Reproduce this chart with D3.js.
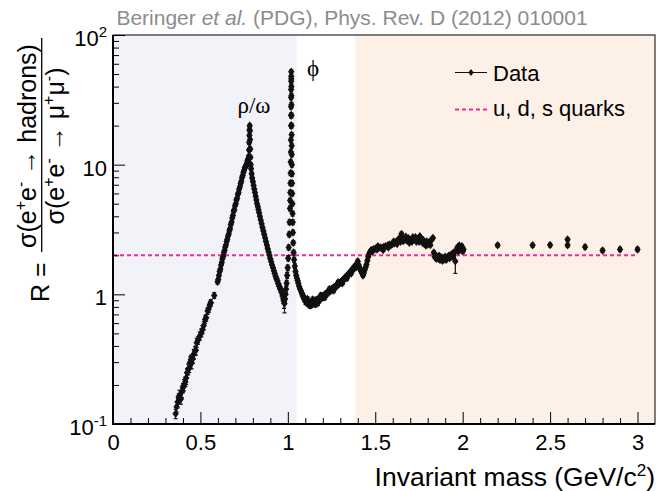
<!DOCTYPE html>
<html><head><meta charset="utf-8">
<script src="https://cdn.jsdelivr.net/npm/d3@7"></script>
<style>
html,body{margin:0;padding:0;background:#fff;}
svg{display:block;font-family:"Liberation Sans",Arial,Helvetica,sans-serif;}
</style></head><body>
<svg id="chart" width="658" height="491"></svg>
<script>
// ---------------- DATA ----------------
const xDomain = [0, 3.1];
const yDomain = [0.1, 100];
const xMajorTicks = [0, 0.5, 1, 1.5, 2, 2.5, 3];
const xTickLabels = ["0", "0.5", "1", "1.5", "2", "2.5", "3"];
const yMajorTicks = [0.1, 1, 10, 100];
const yTickBase = ["10", "1", "10", "10"];
const yTickExp = ["-1", "", "", "2"];
const bandFrom = [0, 1.385];
const bandTo = [1.05, 3.1];
const quarkR = 2;            // u, d, s quark expectation
const quarkRange = [0, 3.0];

// [mass GeV, R, error]
const rhoRegion = [
 [0.358,0.120,0.010],[0.364,0.136,0.012],[0.370,0.148,0.015],[0.376,0.158,0.013],[0.380,0.166,0.016],
 [0.388,0.156,0.014],[0.394,0.178,0.018],[0.400,0.190,0.016],[0.406,0.200,0.020],[0.414,0.212,0.018],
 [0.418,0.226,0.024],[0.424,0.248,0.020],[0.430,0.264,0.025],[0.436,0.272,0.022],[0.441,0.300,0.030],
 [0.446,0.314,0.026],[0.450,0.296,0.030],[0.456,0.318,0.024],[0.462,0.346,0.030],[0.469,0.366,0.028],
 [0.474,0.370,0.030],[0.479,0.424,0.034],[0.486,0.442,0.030],[0.497,0.478,0.034],[0.505,0.505,0.036],
 [0.512,0.534,0.038],[0.519,0.575,0.040],[0.527,0.640,0.042],[0.533,0.660,0.040],[0.541,0.744,0.044],
 [0.547,0.770,0.046],[0.554,0.836,0.048],[0.560,0.860,0.050],[0.579,0.98,0.05],
 [0.598,1.25,0.05],[0.602,1.30,0.05],[0.606,1.40,0.05],[0.610,1.50,0.06],[0.614,1.56,0.06],
 [0.618,1.68,0.06],[0.622,1.76,0.06],[0.626,1.88,0.07],[0.630,1.96,0.07],[0.634,2.10,0.07],
 [0.638,2.18,0.08],[0.642,2.32,0.08],[0.646,2.40,0.08],[0.650,2.56,0.09],[0.654,2.66,0.09],
 [0.658,2.82,0.10],[0.662,2.92,0.10],[0.666,3.10,0.11],[0.670,3.22,0.11],[0.674,3.46,0.12],
 [0.678,3.60,0.12],[0.682,3.88,0.13],[0.686,4.05,0.14],[0.690,4.38,0.15],[0.694,4.50,0.15],
 [0.698,4.82,0.16],[0.702,5.00,0.17],[0.706,5.35,0.18],[0.710,5.50,0.18],[0.714,5.90,0.20],
 [0.718,6.10,0.20],[0.722,6.50,0.22],[0.726,6.75,0.22],[0.730,7.15,0.24],[0.734,7.45,0.25],
 [0.738,7.95,0.26],[0.742,8.25,0.27],[0.746,8.75,0.28],[0.750,9.05,0.30],[0.754,9.45,0.30],
 [0.758,9.65,0.32],[0.762,10.0,0.32],[0.766,10.3,0.34],[0.769,10.7,0.35],[0.772,11.0,0.35],
 [0.775,10.2,0.35],[0.777,11.6,0.4],[0.778,13.0,0.4],[0.779,14.8,0.5],[0.780,16.8,0.5],
 [0.781,18.6,0.6],[0.782,20.0,0.6],[0.783,18.2,0.6],[0.784,15.6,0.5],[0.785,13.2,0.5],
 [0.786,11.4,0.4],[0.788,10.0,0.35],[0.790,9.3,0.3],[0.793,8.5,0.3]
];

const phiRegion = [
 [0.796,7.9,0.3],[0.800,7.4,0.3],[0.804,6.9,0.3],[0.808,6.5,0.25],[0.812,6.1,0.25],[0.816,5.7,0.22],
 [0.820,5.35,0.2],[0.824,5.0,0.2],[0.828,4.75,0.18],[0.832,4.5,0.18],[0.836,4.25,0.16],[0.840,4.0,0.16],
 [0.845,3.75,0.15],[0.850,3.5,0.14],[0.855,3.28,0.13],[0.860,3.08,0.12],[0.865,2.9,0.12],[0.870,2.72,0.11],
 [0.875,2.55,0.1],[0.880,2.4,0.1],[0.885,2.25,0.09],[0.890,2.12,0.09],[0.895,2.0,0.08],[0.900,1.88,0.08],
 [0.905,1.78,0.08],[0.910,1.68,0.07],[0.915,1.6,0.07],[0.920,1.52,0.07],[0.925,1.45,0.07],[0.930,1.38,0.06],
 [0.935,1.32,0.06],[0.940,1.27,0.06],[0.945,1.21,0.06],[0.950,1.16,0.06],[0.955,1.12,0.06],[0.960,1.08,0.06],
 [0.965,1.03,0.07],[0.970,0.98,0.08],[0.974,0.93,0.08],[0.978,0.88,0.10],[0.981,0.85,0.13],[0.984,0.92,0.08],
 [0.987,1.00,0.07],[0.990,1.10,0.06],[0.993,1.22,0.06],[0.996,1.40,0.07],[0.999,1.60,0.08],[1.002,1.90,0.09],
 [1.005,2.3,0.1],[1.008,2.9,0.12],[1.010,3.6,0.15],[1.012,4.6,0.2],[1.013,5.3,0.2],[1.014,6.1,0.25],
 [1.015,7.2,0.3],[1.016,8.6,0.35],[1.0165,10.5,0.4],[1.017,12.5,0.5],[1.0175,15.5,0.6],[1.018,20,0.8],
 [1.018,24,1.0],[1.0183,28,1.1],[1.0185,33,1.3],[1.0187,38,1.5],[1.019,44,1.7],[1.0193,48,1.9],
 [1.0195,52,2.0],[1.0197,46,1.8],[1.020,40,1.6],[1.0203,34,1.4],[1.0206,29,1.2],[1.021,24,1.0],
 [1.0213,20,0.8],[1.0216,17,0.7],[1.022,14,0.6],[1.0225,12,0.5],[1.023,10,0.4],[1.0235,8.5,0.35],
 [1.024,7.2,0.3],[1.025,6.0,0.25],[1.026,5.0,0.2],[1.027,4.2,0.18],[1.028,3.6,0.15],[1.029,3.0,0.12],
 [1.031,2.5,0.1],[1.033,2.1,0.09],[1.036,1.85,0.08],[1.040,1.65,0.07],[1.044,1.50,0.06],[1.048,1.40,0.06],
 [1.052,1.33,0.06],[1.056,1.28,0.05],[1.060,1.22,0.05],[1.065,1.15,0.05],[1.070,1.10,0.05],[1.075,1.06,0.05],
 [1.080,1.02,0.05],[1.085,0.98,0.05],[1.090,0.95,0.05],[1.095,0.92,0.05],[1.100,0.89,0.05]
];

const continuumRegion = [
 [1.105,0.87,0.04],[1.110,0.86,0.04],[1.112,0.92,0.04],[1.115,0.85,0.04],[1.120,0.84,0.04],[1.125,0.86,0.04],
 [1.128,0.82,0.04],[1.130,0.85,0.04],[1.135,0.87,0.04],[1.140,0.84,0.04],[1.142,0.91,0.04],[1.145,0.88,0.04],
 [1.150,0.86,0.04],[1.155,0.89,0.04],[1.158,0.84,0.04],[1.160,0.90,0.04],[1.165,0.87,0.04],[1.170,0.91,0.04],
 [1.172,0.86,0.04],[1.175,0.92,0.04],[1.180,0.90,0.04],[1.185,0.94,0.04],[1.188,0.98,0.04],[1.190,0.93,0.04],
 [1.195,0.96,0.04],[1.200,0.97,0.04],[1.205,0.95,0.04],[1.210,0.99,0.04],[1.212,0.95,0.04],[1.215,1.00,0.04],
 [1.220,1.02,0.04],[1.225,1.01,0.04],[1.230,1.04,0.04],[1.235,1.06,0.04],[1.238,1.10,0.04],[1.240,1.05,0.04],
 [1.245,1.08,0.04],[1.250,1.10,0.04],[1.255,1.09,0.04],[1.260,1.12,0.04],[1.262,1.07,0.04],[1.265,1.14,0.04],
 [1.270,1.13,0.04],[1.275,1.16,0.04],[1.280,1.18,0.04],[1.285,1.17,0.04],[1.288,1.24,0.04],[1.290,1.20,0.04],
 [1.295,1.22,0.04],[1.300,1.24,0.04],[1.305,1.23,0.04],[1.310,1.27,0.04],[1.312,1.22,0.04],[1.315,1.29,0.04],
 [1.320,1.30,0.04],[1.325,1.33,0.05],[1.330,1.35,0.05],[1.335,1.38,0.05],[1.338,1.33,0.05],[1.340,1.40,0.05],
 [1.345,1.42,0.05],[1.350,1.45,0.05],[1.355,1.47,0.05],[1.360,1.50,0.05],[1.362,1.45,0.05],[1.365,1.53,0.05],
 [1.370,1.55,0.05],[1.375,1.60,0.05],[1.380,1.58,0.05],[1.385,1.66,0.05],[1.390,1.62,0.05],[1.395,1.70,0.05],
 [1.400,1.80,0.06],[1.405,1.68,0.05],[1.410,1.60,0.05],[1.415,1.55,0.05],[1.420,1.50,0.05],[1.425,1.45,0.05],
 [1.430,1.40,0.05],[1.435,1.46,0.05],[1.440,1.55,0.05],[1.445,1.62,0.05],[1.450,1.70,0.06],[1.455,1.82,0.06],
 [1.460,1.95,0.06],[1.465,2.05,0.06],[1.470,2.12,0.06],[1.475,2.18,0.06],[1.480,2.20,0.06],[1.485,2.16,0.06],
 [1.490,2.22,0.06],[1.500,2.25,0.06],[1.510,2.22,0.06],[1.515,2.35,0.06],[1.520,2.28,0.06],[1.530,2.30,0.06],
 [1.540,2.28,0.06],[1.545,2.20,0.06],[1.550,2.33,0.06],[1.560,2.35,0.06],[1.570,2.38,0.06],[1.575,2.30,0.06],
 [1.580,2.42,0.06],[1.590,2.40,0.06],[1.600,2.45,0.06],[1.605,2.55,0.07],[1.610,2.48,0.07],[1.620,2.55,0.07],
 [1.625,2.45,0.07],[1.630,2.62,0.07],[1.640,2.72,0.07],[1.645,2.55,0.07],[1.650,2.92,0.10],[1.655,2.70,0.07],
 [1.660,2.58,0.07],[1.670,2.65,0.07],[1.675,2.78,0.07],[1.680,2.60,0.07],[1.690,2.70,0.07],[1.695,2.50,0.07],
 [1.700,2.62,0.07],[1.710,2.55,0.07],[1.715,2.75,0.07],[1.720,2.68,0.07],[1.730,2.75,0.08],[1.735,2.55,0.07],
 [1.740,2.60,0.07],[1.750,2.55,0.07],[1.755,2.80,0.08],[1.760,2.72,0.07],[1.770,2.50,0.07],[1.775,2.62,0.07],
 [1.780,2.45,0.07],[1.790,2.38,0.07],[1.795,2.55,0.07],[1.800,2.42,0.07],[1.810,2.52,0.07],[1.815,2.40,0.07],
 [1.820,2.62,0.07],[1.830,2.72,0.08],[1.835,2.10,0.07],[1.840,1.95,0.07],[1.845,2.00,0.07],[1.850,1.88,0.07],
 [1.860,1.90,0.07],[1.865,1.98,0.07],[1.870,1.85,0.07],[1.880,1.92,0.07],[1.885,1.82,0.07],[1.890,1.88,0.07],
 [1.900,1.95,0.07],[1.905,1.85,0.07],[1.910,1.90,0.07],[1.920,1.98,0.07],[1.925,1.90,0.07],[1.930,2.00,0.07],
 [1.940,2.05,0.07],[1.945,1.95,0.07],[1.950,2.10,0.08],[1.958,1.80,0.35],[1.965,2.20,0.08],[1.970,2.30,0.08],
 [1.975,2.15,0.08],[1.980,2.38,0.08],[1.990,2.25,0.08],[1.995,2.35,0.08],[2.000,2.15,0.08],[2.005,2.22,0.08]
];

const highMassPoints = [
 [2.2,2.39,0.08],[2.4,2.39,0.08],[2.5,2.40,0.08],[2.6,2.65,0.09],[2.6,2.39,0.08],
 [2.7,2.32,0.08],[2.8,2.18,0.08],[2.9,2.22,0.08],[3.0,2.22,0.08]
];

// ---------------- DRAWING ----------------
const plot = {left:113, right:655, top:35, bottom:424};
const x = d3.scaleLinear().domain(xDomain).range([plot.left, plot.right]);
const y = d3.scaleLog().domain(yDomain).range([plot.bottom, plot.top]);
const svg = d3.select("#chart");
const bandColors = ["#f2f3f8", "#fdf0e6"];
const pink = "#f0289a";
const ink = "#111";

svg.append("defs").append("clipPath").attr("id","clip").append("rect")
  .attr("x",plot.left).attr("y",plot.top).attr("width",plot.right-plot.left).attr("height",plot.bottom-plot.top);

// shaded bands
svg.selectAll("rect.band").data(bandFrom).join("rect").attr("class","band")
  .attr("x",(d)=>x(d)).attr("width",(d,i)=>x(bandTo[i])-x(d))
  .attr("y",plot.top).attr("height",plot.bottom-plot.top)
  .attr("fill",(d,i)=>bandColors[i]);

// quark reference line
svg.append("line")
  .attr("x1",x(quarkRange[0])).attr("x2",x(quarkRange[1]))
  .attr("y1",y(quarkR)).attr("y2",y(quarkR))
  .attr("stroke",pink).attr("stroke-width",2).attr("stroke-dasharray","4,3");

// data
const allPoints = [...rhoRegion, ...phiRegion, ...continuumRegion, ...highMassPoints];
const gData = svg.append("g").attr("clip-path","url(#clip)");
const eb = gData.append("g").attr("stroke",ink).attr("stroke-width",1.2);
allPoints.forEach(p=>{
  const cx = x(p[0]), y1 = y(p[1]+p[2]), y2 = y(Math.max(p[1]-p[2], 0.01));
  eb.append("line").attr("x1",cx).attr("x2",cx).attr("y1",y1).attr("y2",y2);
  eb.append("line").attr("x1",cx-2).attr("x2",cx+2).attr("y1",y1).attr("y2",y1);
  eb.append("line").attr("x1",cx-2).attr("x2",cx+2).attr("y1",y2).attr("y2",y2);
});
const diamond = "M0,-4.3L3.2,0L0,4.3L-3.2,0Z";
gData.append("g").selectAll("path").data(allPoints).join("path")
  .attr("d",diamond).attr("fill",ink)
  .attr("transform",d=>`translate(${x(d[0])},${y(d[1])})`);

// axes
const xMinor = d3.range(1, 31).map(i=>i/10).filter(v=>Math.abs(v*2-Math.round(v*2))>1e-6);
const yMinor = [];
[0.1,1,10].forEach(dec=>{ for(let k=2;k<=9;k++) yMinor.push(dec*k); });

const gx = svg.append("g").attr("transform",`translate(0,${plot.bottom})`)
  .call(d3.axisBottom(x).tickValues(xMajorTicks).tickSize(-12).tickFormat((d,i)=>xTickLabels[i]));
gx.select(".domain").remove();
gx.selectAll("text").attr("y",26).attr("dy",null).attr("font-size",22).attr("fill","#000")
  .attr("font-family","Liberation Sans, Arial, sans-serif");
const gx2 = svg.append("g").attr("transform",`translate(0,${plot.bottom})`)
  .call(d3.axisBottom(x).tickValues(xMinor).tickSize(-6).tickFormat(""));
gx2.select(".domain").remove();

const gy = svg.append("g").attr("transform",`translate(${plot.left},0)`)
  .call(d3.axisLeft(y).tickValues(yMajorTicks).tickSize(-12).tickFormat(""));
gy.select(".domain").remove();
const gy2 = svg.append("g").attr("transform",`translate(${plot.left},0)`)
  .call(d3.axisLeft(y).tickValues(yMinor).tickSize(-6).tickFormat(""));
gy2.select(".domain").remove();
svg.selectAll(".tick line").attr("stroke","#000").attr("stroke-width",1);

yMajorTicks.forEach((v,i)=>{
  const t = svg.append("text").attr("x",107).attr("y",y(v)+11)
    .attr("text-anchor","end").attr("font-size",22).attr("fill","#000");
  t.append("tspan").text(yTickBase[i]);
  if (yTickExp[i]) t.append("tspan").attr("dy",-9).attr("font-size",15).text(yTickExp[i]);
});

// frame
svg.append("rect").attr("x",plot.left).attr("y",plot.top)
  .attr("width",plot.right-plot.left).attr("height",plot.bottom-plot.top)
  .attr("fill","none").attr("stroke","#000").attr("stroke-width",1);
svg.append("line").attr("x1",plot.left).attr("x2",plot.left).attr("y1",plot.top).attr("y2",plot.bottom+1)
  .attr("stroke","#000").attr("stroke-width",2);
svg.append("line").attr("x1",plot.left-1).attr("x2",plot.right).attr("y1",plot.bottom).attr("y2",plot.bottom)
  .attr("stroke","#000").attr("stroke-width",2);

// title
const title = svg.append("text").attr("x",352).attr("y",25).attr("text-anchor","middle")
  .attr("font-size",21).attr("fill","#8c8c8c");
title.append("tspan").text("Beringer ");
title.append("tspan").attr("font-style","italic").text("et al.");
title.append("tspan").text(" (PDG), Phys. Rev. D (2012) 010001");

// x axis title
const xt = svg.append("text").attr("x",655).attr("y",486).attr("text-anchor","end").attr("font-size",26.5);
xt.append("tspan").text("Invariant mass (GeV/c");
xt.append("tspan").attr("dy",-10).attr("font-size",17).text("2");
xt.append("tspan").attr("dy",10).text(")");

// y axis title (rotated)
const yl = svg.append("g").attr("transform","rotate(-90)").attr("font-size",25);
yl.append("text").attr("x",-302).attr("y",49).text("R =");
yl.append("line").attr("x1",-252).attr("x2",-38).attr("y1",41.7).attr("y2",41.7)
  .attr("stroke","#000").attr("stroke-width",1.3);
function frac(yy, parts){
  const t = yl.append("text").attr("x",-146).attr("y",yy).attr("text-anchor","middle");
  parts.forEach(p=>{
    if (p.sup) t.append("tspan").attr("dy",-10).attr("font-size",16).text(p.s);
    else t.append("tspan").attr("dy",p.back?10:0).text(p.s);
  });
}
frac(36, [{s:"σ(e"},{s:"+",sup:1},{s:"e",back:1},{s:"-",sup:1},{s:" → hadrons)",back:1}]);
frac(64, [{s:"σ(e"},{s:"+",sup:1},{s:"e",back:1},{s:"-",sup:1},{s:" → μ",back:1},{s:"+",sup:1},{s:"μ",back:1},{s:"-",sup:1},{s:")",back:1}]);

// resonance labels
svg.append("text").attr("x",254).attr("y",113).attr("text-anchor","middle")
  .attr("font-family","Liberation Serif, Times New Roman, serif").attr("font-size",23).text("ρ/ω");
svg.append("text").attr("x",313).attr("y",76).attr("text-anchor","middle")
  .attr("font-family","Liberation Serif, Times New Roman, serif").attr("font-size",23).text("ϕ");

// legend
const lg = svg.append("g");
lg.append("line").attr("x1",455).attr("x2",487).attr("y1",72.5).attr("y2",72.5).attr("stroke",ink).attr("stroke-width",1);
lg.append("path").attr("d","M0,-3.6L2.6,0L0,3.6L-2.6,0Z").attr("fill",ink).attr("transform","translate(471,72.5)");
lg.append("text").attr("x",493).attr("y",81).attr("font-size",22).text("Data");
lg.append("line").attr("x1",455).attr("x2",487).attr("y1",109.5).attr("y2",109.5)
  .attr("stroke",pink).attr("stroke-width",2).attr("stroke-dasharray","4,3");
lg.append("text").attr("x",493).attr("y",116).attr("font-size",22).text("u, d, s quarks");
</script>
</body></html>
